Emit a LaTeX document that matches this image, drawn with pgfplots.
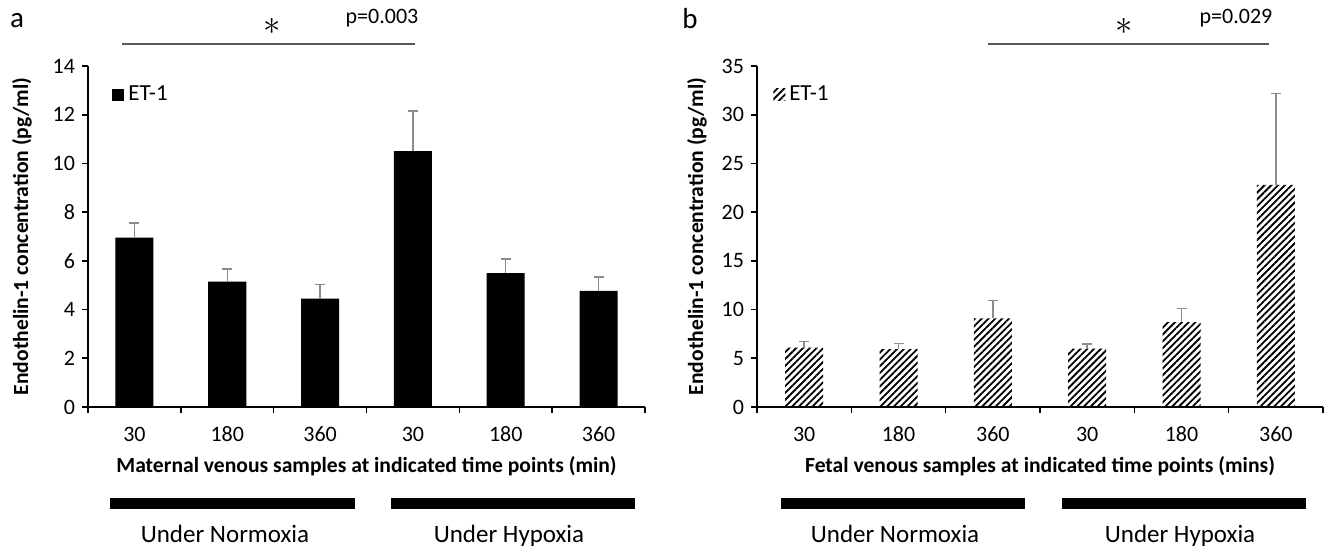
\documentclass[border=0pt]{standalone}
\usepackage{pgfplots}
\pgfplotsset{compat=1.18}
\usepackage{fontspec}
\setmainfont{Carlito}
\usetikzlibrary{patterns.meta}

\definecolor{errgray}{gray}{0.55}
\definecolor{linegray}{gray}{0.35}

\pgfplotsset{
  panel/.style={
    scale only axis, height=170.5pt, anchor=south west,
    xmin=-0.5, xmax=5.5, ymin=0,
    axis x line=bottom, axis y line=left,
    axis line style={-, black, line width=0.8pt},
    tick align=outside, major tick length=3pt, minor tick length=3pt,
    tick style={black, line width=0.8pt},
    xtick={0,...,5}, xticklabels={30,180,360,30,180,360},
    major x tick style={draw=none},
    minor xtick={-0.5,0.5,...,5.5},
    ybar, bar width=19pt,
    ticklabel style={font=\fontsize{11}{13}\selectfont},
    /pgf/number format/assume math mode=true,
    xticklabel style={text height=7pt, text depth=0pt, yshift=-3.5pt},
    xlabel style={font=\bfseries\fontsize{10.8}{13}\selectfont,
      at={(axis description cs:0.5,-0.173)}, anchor=center},
    ylabel style={font=\bfseries\fontsize{10.8}{13}\selectfont, anchor=center},
    legend style={draw=none, fill=none, font=\fontsize{11.5}{13}\selectfont,
      anchor=west, inner sep=0pt},
    clip=false,
  },
  errs/.style={
    error bars/.cd, y dir=plus, y explicit,
    error bar style={errgray, line width=0.7pt},
    error mark options={rotate=90, errgray, mark size=2.5pt, line width=0.7pt},
  },
  sq legend/.style={legend image code/.code={\path[##1,draw=none] (0pt,-3pt) rectangle (6pt,3pt);}},
}

\begin{document}
\begin{tikzpicture}
\path (0pt,0pt) rectangle (663.5pt,274pt);

% panel a: maternal
\begin{axis}[panel, at={(44pt,70.5pt)}, width=278.5pt,
  ymax=14, ytick={0,2,...,14},
  xlabel={Maternal venous samples at indicated time points (min)},
  ylabel={Endothelin-1 concentration (pg/ml)},
  ylabel style={at={(axis description cs:-0.1185,0.5)}},
  legend style={at={(0.043,0.915)}}]
\addplot[fill=black, draw=none, sq legend, errs] coordinates {
  (0,6.95) +- (0,0.60)
  (1,5.15) +- (0,0.52)
  (2,4.45) +- (0,0.58)
  (3,10.50) +- (0,1.65)
  (4,5.50) +- (0,0.58)
  (5,4.77) +- (0,0.56)
};
\addlegendentry{ET-1}
\end{axis}

% panel b: fetal
\begin{axis}[panel, at={(378.5pt,70.5pt)}, width=283pt,
  ymax=35, ytick={0,5,...,35},
  xlabel={Fetal venous samples at indicated time points (mins)},
  ylabel={Endothelin-1 concentration (pg/ml)},
  ylabel style={at={(axis description cs:-0.106,0.5)}},
  legend style={at={(0.028,0.915)}}]
\addplot[draw=none, pattern={Lines[angle=45,distance=2.4pt,line width=0.9pt]},
  pattern color=black, sq legend, errs] coordinates {
  (0,6.1) +- (0,0.65)
  (1,5.95) +- (0,0.55)
  (2,9.1) +- (0,1.8)
  (3,6.0) +- (0,0.45)
  (4,8.7) +- (0,1.4)
  (5,22.8) +- (0,9.4)
};
\addlegendentry{ET-1}
\end{axis}

% annotations (pixel coordinates, origin top left)
\begin{scope}[shift={(0pt,274pt)}, x=0.5pt, y=-0.5pt]
  \node[font=\fontsize{14.5}{14}\selectfont] at (17,21) {a};
  \node[font=\fontsize{14.5}{14}\selectfont] at (690,19) {b};
  \draw[linegray, line width=1.1pt] (122,44) -- (415,44);
  \node[inner sep=0pt] at (272,26) {\fontsize{18}{18}\selectfont$\ast$};
  \node[font=\fontsize{11}{13}\selectfont] at (382,18) {p=0.003};
  \draw[linegray, line width=1.1pt] (988,44) -- (1269,44);
  \node[inner sep=0pt] at (1124,26) {\fontsize{18}{18}\selectfont$\ast$};
  \node[font=\fontsize{11}{13}\selectfont] at (1236,18) {p=0.029};
  \fill[black] (110,498) rectangle (355,509);
  \fill[black] (391,498) rectangle (635,509);
  \fill[black] (781,498) rectangle (1025,509);
  \fill[black] (1062,498) rectangle (1306,509);
  \node[font=\fontsize{12.5}{14}\selectfont, anchor=base] at (225,543) {Under Normoxia};
  \node[font=\fontsize{12.5}{14}\selectfont, anchor=base] at (509,543) {Under Hypoxia};
  \node[font=\fontsize{12.5}{14}\selectfont, anchor=base] at (895,543) {Under Normoxia};
  \node[font=\fontsize{12.5}{14}\selectfont, anchor=base] at (1180,543) {Under Hypoxia};
\end{scope}
\end{tikzpicture}
\end{document}
